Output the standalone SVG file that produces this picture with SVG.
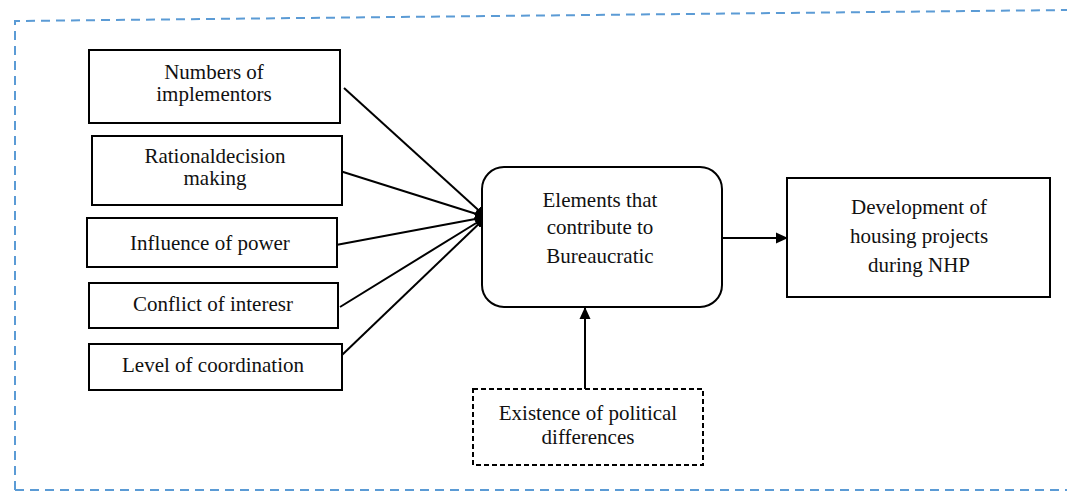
<svg xmlns="http://www.w3.org/2000/svg" width="1067" height="493" viewBox="0 0 1067 493">
<defs>
<style>
.box{fill:#fff;stroke:#000;stroke-width:2}
.dbox{fill:#fff;stroke:#000;stroke-width:2;stroke-dasharray:5 3}
.t{font-family:"Liberation Serif","Times New Roman",serif;font-size:21px;fill:#111;text-anchor:middle}
.c{stroke:#000;stroke-width:2;fill:none}
.frame{fill:none;stroke:#5b9bd5;stroke-width:2;stroke-dasharray:9 6}
</style>
<marker id="ah" markerWidth="12" markerHeight="12" refX="11" refY="6" orient="auto" markerUnits="userSpaceOnUse">
<path d="M0,0.5 L12,6 L0,11.5 Z" fill="#000"/>
</marker>
</defs>
<rect width="1067" height="493" fill="#fff"/>
<g id="frame">
<path class="frame" d="M15,490 L15,21 L1067,10"/>
<path class="frame" d="M15,490 L1067,490"/>
</g>
<g id="connectors">
<line class="c" x1="344" y1="88" x2="486" y2="217" marker-end="url(#ah)"/>
<line class="c" x1="340" y1="171" x2="486" y2="217" marker-end="url(#ah)"/>
<line class="c" x1="336" y1="245" x2="486" y2="217" marker-end="url(#ah)"/>
<line class="c" x1="340" y1="307" x2="486" y2="217" marker-end="url(#ah)"/>
<line class="c" x1="342" y1="355" x2="486" y2="217" marker-end="url(#ah)"/>
<line class="c" x1="722" y1="238" x2="787" y2="238" marker-end="url(#ah)"/>
<line class="c" x1="585" y1="389" x2="585" y2="308" marker-end="url(#ah)"/>
</g>
<g id="n1"><rect class="box" x="89" y="50" width="251" height="73"/>
<text class="t" x="214" y="79">Numbers of</text><text class="t" x="214" y="101">implementors</text></g>
<g id="n2"><rect class="box" x="92" y="136" width="250" height="69"/>
<text class="t" x="215" y="163">Rationaldecision</text><text class="t" x="215" y="185">making</text></g>
<g id="n3"><rect class="box" x="87" y="218" width="250" height="49"/>
<text class="t" x="210" y="250">Influence of power</text></g>
<g id="n4"><rect class="box" x="89" y="283" width="249" height="45"/>
<text class="t" x="213" y="311">Conflict of interesr</text></g>
<g id="n5"><rect class="box" x="89" y="344" width="253" height="46"/>
<text class="t" x="213" y="372">Level of coordination</text></g>
<g id="center"><rect class="box" x="482" y="167" width="240" height="140" rx="22" ry="22"/>
<text class="t" x="600" y="207">Elements that</text><text class="t" x="600" y="234">contribute to</text><text class="t" x="600" y="263">Bureaucratic</text></g>
<g id="dev"><rect class="box" x="787" y="178" width="263" height="119"/>
<text class="t" x="919" y="214">Development of</text><text class="t" x="919" y="243">housing projects</text><text class="t" x="919" y="272">during NHP</text></g>
<g id="pol"><rect class="dbox" x="473" y="389" width="230" height="76"/>
<text class="t" x="588" y="420">Existence of political</text><text class="t" x="588" y="444">differences</text></g>
</svg>
